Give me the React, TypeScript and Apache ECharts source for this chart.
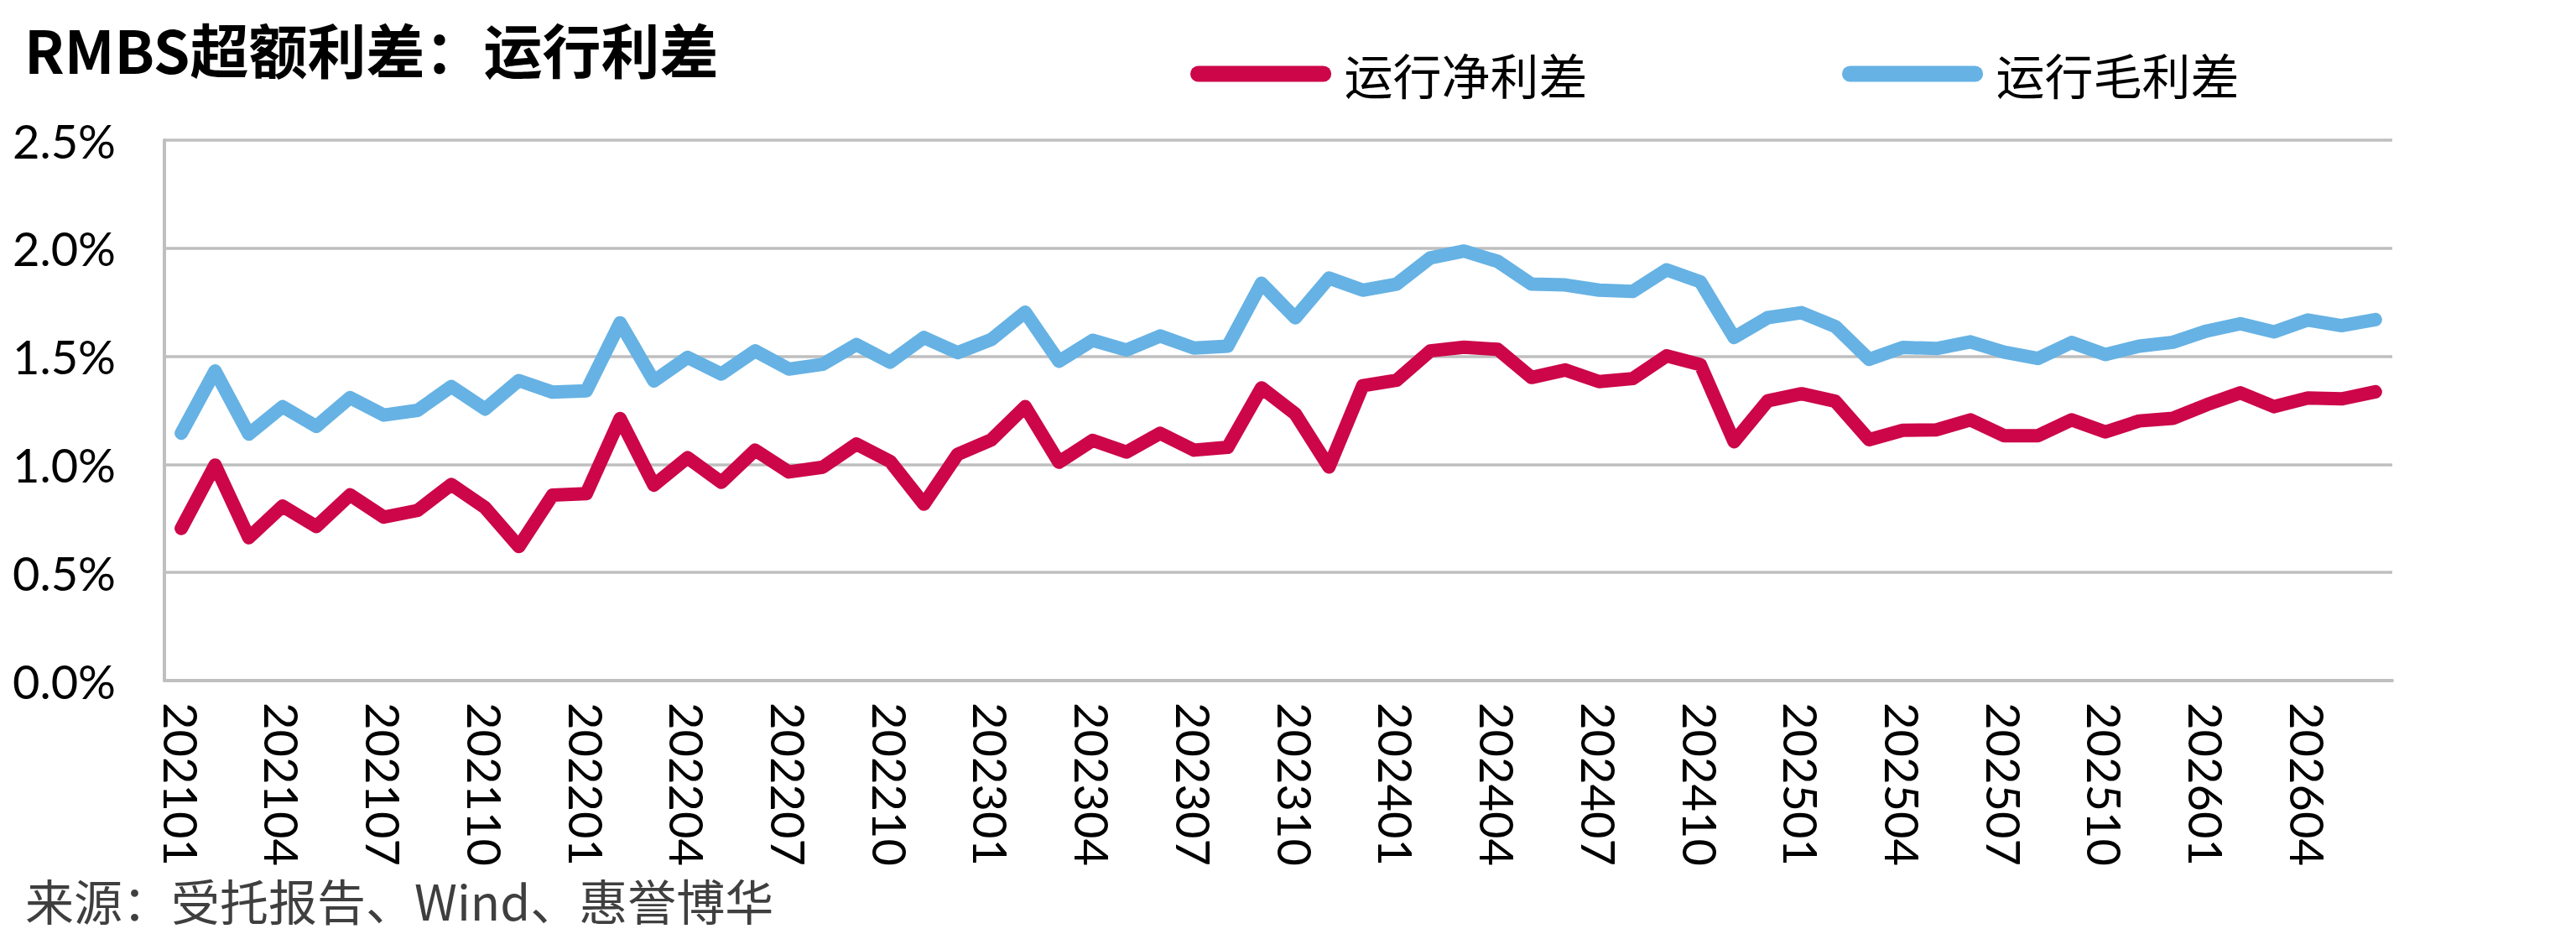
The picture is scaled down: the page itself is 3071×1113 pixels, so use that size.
import React, { useEffect, useRef } from "react";
import * as echarts from "echarts";

const categories = [
  "202101","202102","202103","202104","202105","202106","202107","202108","202109","202110","202111","202112",
  "202201","202202","202203","202204","202205","202206","202207","202208","202209","202210","202211","202212",
  "202301","202302","202303","202304","202305","202306","202307","202308","202309","202310","202311","202312",
  "202401","202402","202403","202404","202405","202406","202407","202408","202409","202410","202411","202412",
  "202501","202502","202503","202504","202505","202506","202507","202508","202509","202510","202511","202512",
  "202601","202602","202603","202604","202605","202606",
];

const netSpread = [
  0.704, 0.997, 0.661, 0.807, 0.713, 0.859, 0.756, 0.787, 0.907, 0.8, 0.62, 0.858,
  0.865, 1.212, 0.904, 1.031, 0.917, 1.066, 0.965, 0.987, 1.094, 1.014, 0.816, 1.047,
  1.114, 1.267, 1.01, 1.111, 1.057, 1.144, 1.066, 1.079, 1.354, 1.234, 0.988, 1.364,
  1.389, 1.525, 1.542, 1.532, 1.402, 1.437, 1.383, 1.397, 1.502, 1.462, 1.105, 1.294,
  1.327, 1.292, 1.114, 1.158, 1.16, 1.206, 1.133, 1.133, 1.206, 1.15, 1.201, 1.213,
  1.276, 1.331, 1.267, 1.307, 1.303, 1.336,
];

const grossSpread = [
  1.144, 1.432, 1.14, 1.267, 1.176, 1.309, 1.228, 1.25, 1.36, 1.256, 1.388, 1.334,
  1.34, 1.655, 1.386, 1.495, 1.418, 1.525, 1.441, 1.463, 1.554, 1.473, 1.587, 1.517,
  1.578, 1.704, 1.477, 1.574, 1.529, 1.594, 1.538, 1.547, 1.838, 1.678, 1.862, 1.806,
  1.834, 1.955, 1.987, 1.939, 1.834, 1.83, 1.806, 1.8, 1.9, 1.845, 1.587, 1.679,
  1.702, 1.638, 1.486, 1.541, 1.536, 1.567, 1.519, 1.49, 1.564, 1.508, 1.547, 1.565,
  1.617, 1.651, 1.613, 1.668, 1.642, 1.67,
];

const seriesNames = ["运行净利差", "运行毛利差"];
const titleText = "RMBS超额利差：运行利差";
const sourceText = "来源：受托报告、Wind、惠誉博华";

const RED = "#CC0649";
const BLUE = "#66B2E4";
const GRID = "#BFBFBF";
const PILL = "path://M10,0 L167,0 A10,10 0 0 1 167,20 L10,20 A10,10 0 0 1 10,0 Z";

export default function App() {
  const ref = useRef<HTMLDivElement>(null);

  useEffect(() => {
    document.body.style.margin = "0";
    if (!ref.current) return;
    const chart = echarts.init(ref.current, undefined, { renderer: "svg" });
    const legendBase = {
      orient: "horizontal",
      top: 59,
      padding: 0,
      itemWidth: 177,
      itemHeight: 19,
      icon: PILL,
      textStyle: {
        fontFamily: "Noto Sans CJK SC",
        fontSize: 58,
        lineHeight: 58,
        color: "#000",
        padding: [0, 0, 0, 6],
      },
    };
    chart.setOption({
      animation: false,
      backgroundColor: "#fff",
      grid: { left: 196, right: 219, top: 167, bottom: 302, containLabel: false },
      legend: [
        { ...legendBase, left: 1419, data: [seriesNames[0]] },
        { ...legendBase, left: 2196, data: [seriesNames[1]] },
      ],
      xAxis: {
        type: "category",
        data: categories,
        boundaryGap: true,
        axisLine: { show: true, lineStyle: { color: GRID, width: 4 } },
        axisTick: { show: false },
        axisLabel: {
          interval: 2,
          rotate: -90,
          margin: 26,
          fontFamily: "Lato",
          fontSize: 56,
          color: "#000",
        },
        splitLine: { show: false },
      },
      yAxis: {
        type: "value",
        min: 0,
        max: 2.5,
        interval: 0.5,
        axisLine: { show: true, lineStyle: { color: GRID, width: 4 } },
        axisTick: { show: false },
        axisLabel: {
          margin: 58,
          fontFamily: "Lato",
          fontSize: 56,
          color: "#000",
          formatter: (v: number) => v.toFixed(1) + "%",
        },
        splitLine: { show: true, lineStyle: { color: GRID, width: 3.5 } },
      },
      series: [
        {
          name: seriesNames[0],
          type: "line",
          data: netSpread,
          symbol: "none",
          color: RED,
          lineStyle: { color: RED, width: 16, cap: "round", join: "round" },
          z: 3,
        },
        {
          name: seriesNames[1],
          type: "line",
          data: grossSpread,
          symbol: "none",
          color: BLUE,
          lineStyle: { color: BLUE, width: 16, cap: "round", join: "round" },
          z: 2,
        },
      ],
      graphic: [
        {
          type: "text",
          left: 29,
          top: 22,
          style: {
            text: titleText,
            fontFamily: "Noto Sans CJK SC",
            fontWeight: "bold",
            fontSize: 70,
            fill: "#000",
          },
        },
        {
          type: "text",
          left: 30,
          top: 1043,
          style: {
            text: sourceText,
            fontFamily: "Noto Sans CJK SC",
            fontSize: 58,
            fill: "#3F3F3F",
          },
        },
      ],
    });
    return () => chart.dispose();
  }, []);

  return <div ref={ref} style={{ width: 3071, height: 1113 }} />;
}
